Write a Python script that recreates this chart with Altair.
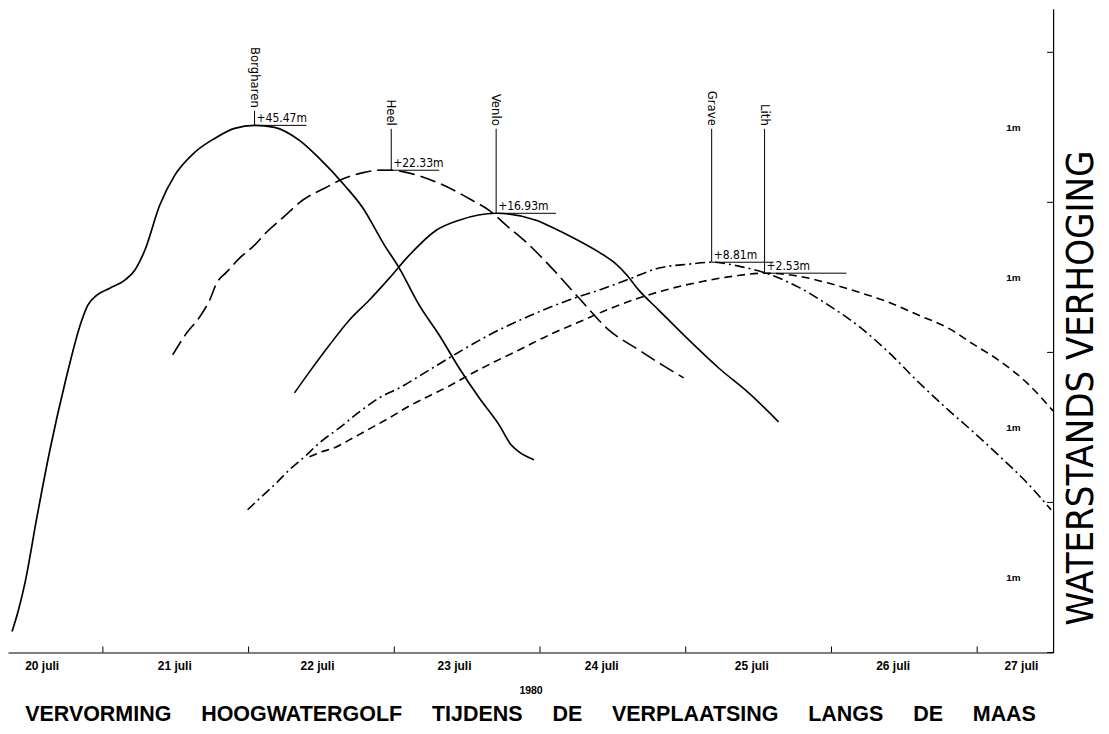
import altair as alt
import pandas as pd

# x: day of July 1980 (fractional), y: water-level rise (m, relative)
borgharen_day = [20.377, 20.418, 20.466, 20.548, 20.637, 20.740, 20.856, 20.897, 20.959, 21.048,
                 21.151, 21.219, 21.288, 21.390, 21.493, 21.630, 21.767, 21.904, 22.041, 22.178,
                 22.349, 22.486, 22.658, 22.781, 22.932, 23.034, 23.171, 23.308, 23.445, 23.582,
                 23.719, 23.801, 23.856, 23.959]
borgharen_m = [0.140, 0.273, 0.466, 0.905, 1.351, 1.796, 2.216, 2.315, 2.382, 2.428,
               2.482, 2.548, 2.681, 2.981, 3.180, 3.333, 3.426, 3.493, 3.513, 3.500,
               3.413, 3.293, 3.114, 2.967, 2.715, 2.562, 2.315, 2.116, 1.896, 1.697,
               1.517, 1.384, 1.337, 1.284]

heel_day = [21.479, 21.575, 21.664, 21.733, 21.781, 21.849, 21.938, 22.041, 22.123, 22.247,
            22.370, 22.521, 22.658, 22.795, 22.897, 22.979, 23.082, 23.308, 23.534, 23.651,
            23.767, 23.890, 24.062, 24.267, 24.473, 24.678, 24.849, 24.986]
heel_m = [1.983, 2.129, 2.236, 2.349, 2.462, 2.535, 2.628, 2.715, 2.801, 2.908,
          3.014, 3.094, 3.160, 3.200, 3.214, 3.214, 3.200, 3.127, 3.014, 2.947,
          2.848, 2.748, 2.582, 2.362, 2.149, 2.016, 1.910, 1.830]

venlo_day = [22.315, 22.418, 22.555, 22.692, 22.829, 22.966, 23.103, 23.288, 23.445, 23.699,
             23.973, 24.082, 24.233, 24.404, 24.507, 24.596, 24.678, 24.815, 25.021, 25.226,
             25.432, 25.637]
venlo_m = [1.730, 1.870, 2.049, 2.216, 2.349, 2.495, 2.648, 2.814, 2.881, 2.927,
           2.881, 2.834, 2.761, 2.668, 2.601, 2.515, 2.415, 2.282, 2.083, 1.896,
           1.730, 1.537]

grave_day = [21.993, 22.089, 22.178, 22.281, 22.384, 22.486, 22.623, 22.760, 22.897, 23.034,
             23.240, 23.445, 23.651, 23.925, 24.199, 24.404, 24.610, 24.815, 25.021, 25.178,
             25.363, 25.568, 25.774, 25.979, 26.185, 26.390, 26.596, 26.801, 26.973, 27.144,
             27.349, 27.507]
grave_m = [0.951, 1.038, 1.118, 1.218, 1.304, 1.397, 1.497, 1.603, 1.697, 1.763,
           1.883, 2.003, 2.116, 2.242, 2.349, 2.415, 2.488, 2.562, 2.588, 2.601,
           2.575, 2.522, 2.435, 2.315, 2.176, 2.003, 1.803, 1.617, 1.470, 1.317,
           1.124, 0.951]

lith_day = [22.418, 22.500, 22.589, 22.692, 22.829, 22.966, 23.103, 23.240, 23.377, 23.514,
            23.685, 23.856, 24.062, 24.267, 24.473, 24.678, 24.884, 25.089, 25.329, 25.541,
            25.774, 25.979, 26.185, 26.390, 26.596, 26.801, 26.973, 27.144, 27.349, 27.521]
lith_m = [1.304, 1.337, 1.364, 1.417, 1.490, 1.564, 1.643, 1.710, 1.776, 1.850,
          1.936, 2.016, 2.116, 2.202, 2.289, 2.362, 2.422, 2.468, 2.508, 2.528,
          2.508, 2.462, 2.402, 2.335, 2.249, 2.162, 2.055, 1.950, 1.790, 1.610]

station_names = ["Borgharen", "Heel", "Venlo", "Grave", "Lith"]
peak_day = [22.041, 22.979, 23.699, 25.178, 25.541]
peak_m = [3.513, 3.214, 2.927, 2.601, 2.528]
peak_labels = ["+45.47m", "+22.33m", "+16.93m", "+8.81m", "+2.53m"]
name_end_m = [3.63, 3.51, 3.51, 3.51, 3.51]
peak_line_start = [22.041, 22.883, 23.699, 25.178, 25.541]
peak_line_end = [22.397, 23.308, 24.110, 25.603, 26.103]

day_ticks = [21, 22, 23, 24, 25, 26, 27]
day_label_pos = [20.58, 21.49, 22.47, 23.41, 24.42, 25.45, 26.42, 27.30]
metre_ticks = [0, 1, 2, 3, 4]
metre_label_pos = [0.5, 1.5, 2.5, 3.5]
x_domain = [20.349, 27.521]
y_domain = [0, 4.291]

x_title = "1980"
y_title = "WATERSTANDS VERHOGING"
title_words = ["VERVORMING", "HOOGWATERGOLF", "TIJDENS", "DE", "VERPLAATSING", "LANGS", "DE", "MAAS"]
title_text = ("\u00a0" * 5).join(title_words)

W, H = 1047, 645
NARROW = "Liberation Sans Narrow, DejaVu Sans Condensed, Liberation Sans"
SANS = "Liberation Sans"

xs = alt.Scale(domain=x_domain, nice=False, zero=False)
ys = alt.Scale(domain=y_domain, nice=False, zero=False)

x_axis = alt.Axis(
    values=day_label_pos, labelExpr="floor(datum.value) + ' juli'", ticks=False, tickSize=0,
    grid=False, domain=True, domainColor="black", domainWidth=1.2,
    labelFont=SANS, labelFontSize=12, labelFontWeight="bold", labelColor="black",
    labelPadding=8, labelFlush=False, labelOverlap=False,
    title=x_title, titleFont=SANS, titleFontSize=10.5, titleFontWeight="bold", titleColor="black",
    titlePadding=14,
)
y_axis = alt.Axis(
    orient="left", offset=-W, values=metre_label_pos, labelExpr="'1m'",
    ticks=False, tickSize=0,
    grid=False, domain=True, domainColor="black", domainWidth=1.2,
    labelFont=SANS, labelFontSize=10, labelFontWeight="bold", labelColor="black",
    labelPadding=33, labelFlush=False, labelOverlap=False, title=None,
)


def X(field):
    return alt.X(field, type="quantitative", scale=xs, axis=x_axis)


def Y(field):
    return alt.Y(field, type="quantitative", scale=ys, axis=y_axis)


def line_layer(days, ms, dash=None, width=1.6):
    df = pd.DataFrame({"day": days, "m": ms})
    kw = dict(color="black", strokeWidth=width, interpolate="monotone", strokeCap="butt")
    if dash:
        kw["strokeDash"] = dash
    return alt.Chart(df).mark_line(**kw).encode(x=X("day"), y=Y("m"))


layers = [
    line_layer(borgharen_day, borgharen_m, None, 1.7),
    line_layer(heel_day, heel_m, [16, 6]),
    line_layer(venlo_day, venlo_m, None, 1.6),
    line_layer(grave_day, grave_m, [10, 4, 2, 4]),
    line_layer(lith_day, lith_m, [8, 5]),
]

peaks = pd.DataFrame({
    "name": station_names, "day": peak_day, "m": peak_m, "label": peak_labels,
    "name_m": name_end_m, "start": peak_line_start, "end": peak_line_end,
})
peaks["leader_top"] = peaks["name_m"] - 0.02

base = alt.Chart(peaks)
leaders = base.mark_rule(color="black", strokeWidth=1).encode(
    x=X("day"), y=Y("leader_top"), y2="m:Q",
)
flats = base.mark_rule(color="black", strokeWidth=1).encode(
    x=X("start"), x2="end:Q", y=Y("m"),
)
names = base.mark_text(angle=90, align="right", baseline="middle", fontSize=13,
                       font=NARROW, color="black").encode(
    x=X("day"), y=Y("name_m"), text="name:N",
)
values = base.mark_text(align="left", baseline="alphabetic", dx=2, dy=-3, fontSize=12,
                        font=NARROW, color="black").encode(
    x=X("day"), y=Y("m"), text="label:N",
)

# day tick marks pointing up from the time axis
xticks = alt.Chart(pd.DataFrame({"day": day_ticks})).mark_rule(color="black", strokeWidth=1).encode(
    x=X("day"), y=alt.value(H - 6), y2=alt.value(H),
)
# metre tick marks pointing left from the right-hand axis
yticks = alt.Chart(pd.DataFrame({"m": metre_ticks})).mark_rule(color="black", strokeWidth=1).encode(
    y=Y("m"), x=alt.value(W - 6), x2=alt.value(W),
)

ytitle = alt.Chart(pd.DataFrame({"t": [y_title]})).mark_text(
    angle=270, align="center", baseline="middle", fontSize=38, font=NARROW, color="black"
).encode(text="t:N", x=alt.value(1076), y=alt.value(380))

chart = alt.layer(*layers, leaders, flats, names, values, xticks, yticks, ytitle).properties(
    width=W, height=H,
    background="white",
    padding={"left": 0, "top": 0, "right": 0, "bottom": 0},
    title=alt.TitleParams(text=title_text, orient="bottom", anchor="middle", fontSize=21.5,
                          fontWeight="bold", font=SANS, color="black", offset=8),
).configure_view(stroke=None)

chart.save("out.html", embed_options={"renderer": "svg", "actions": False})
